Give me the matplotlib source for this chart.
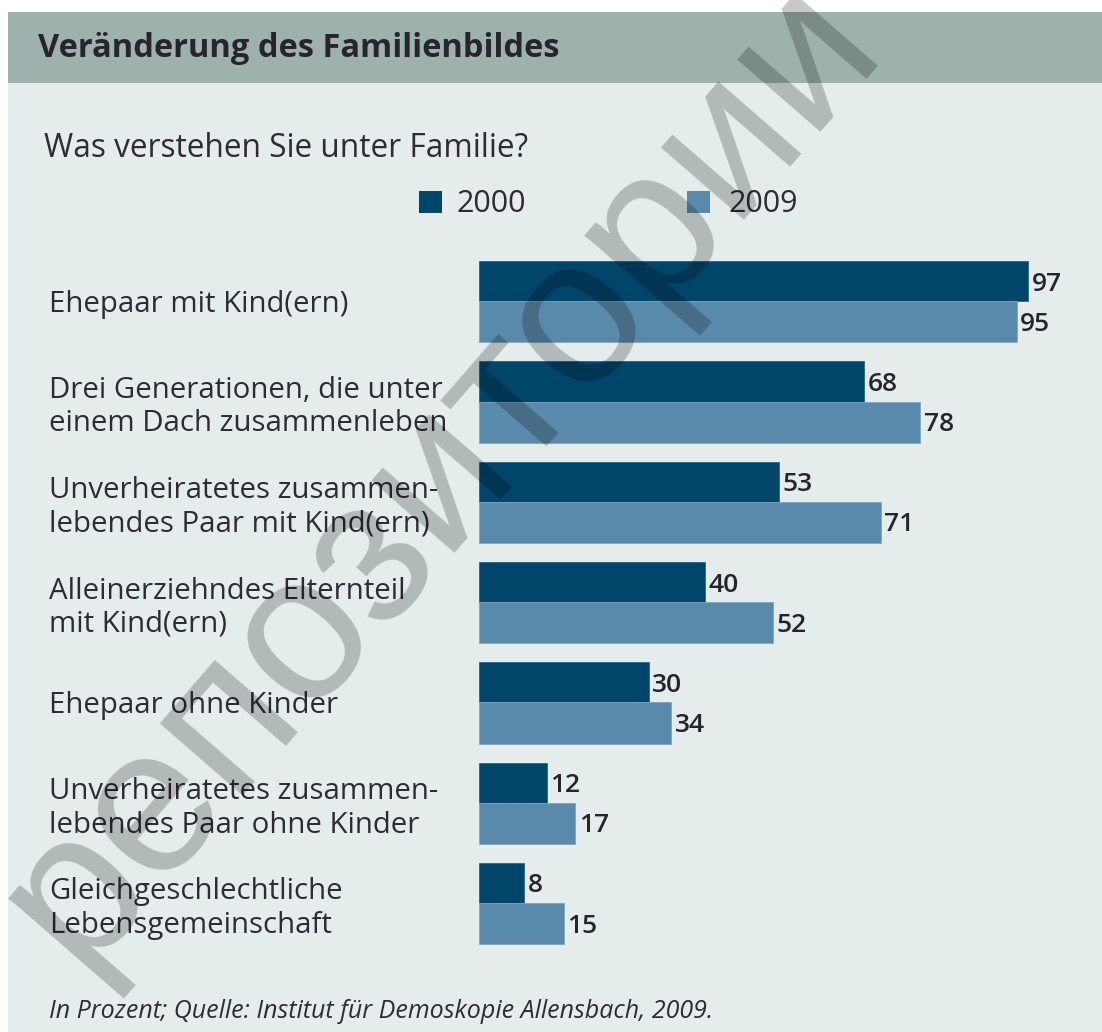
import matplotlib
matplotlib.use("Agg")
import matplotlib.pyplot as plt
from matplotlib.patches import Rectangle
import numpy as np

# ---------------- data ----------------
categories = [
    "Ehepaar mit Kind(ern)",
    "Drei Generationen, die unter\neinem Dach zusammenleben",
    "Unverheiratetes zusammen-\nlebendes Paar mit Kind(ern)",
    "Alleinerziehndes Elternteil\nmit Kind(ern)",
    "Ehepaar ohne Kinder",
    "Unverheiratetes zusammen-\nlebendes Paar ohne Kinder",
    "Gleichgeschlechtliche\nLebensgemeinschaft",
]
values_2000 = [97, 68, 53, 40, 30, 12, 8]
values_2009 = [95, 78, 71, 52, 34, 17, 15]
series_names = ["2000", "2009"]

title = "Veränderung des Familienbildes"
subtitle = "Was verstehen Sie unter Familie?"
footnote = "In Prozent; Quelle: Institut für Demoskopie Allensbach, 2009."
watermark = "репозитории"

# ---------------- style ----------------
W, H, DPI = 1102, 1032, 100
C2000 = "#00466b"
C2009 = "#5a8aab"
HEADER = "#9db2ac"
BODY = "#e4edec"
TXT = "#2e2b33"
FONT = "Open Sans"

def fx(px):
    return px / W

def fy(py):
    return 1 - py / H

fig = plt.figure(figsize=(W / DPI, H / DPI), dpi=DPI, facecolor="white")

# background panels
fig.patches.append(Rectangle((fx(8), fy(1032)), fx(1102) - fx(8), fy(83) - fy(1032),
                             transform=fig.transFigure, facecolor=BODY, edgecolor="none", zorder=-10))
fig.patches.append(Rectangle((fx(8), fy(83)), fx(1102) - fx(8), fy(12) - fy(83),
                             transform=fig.transFigure, facecolor=HEADER, edgecolor="none", zorder=-9))

# texts
fig.text(fx(38), fy(57), title, fontsize=23.5, fontweight="bold", family=FONT,
         color="#27252b", va="baseline", ha="left")
fig.text(fx(44), fy(157), subtitle, fontsize=22.8, family=FONT, color=TXT,
         va="baseline", ha="left")
fig.text(fx(49), fy(1018), footnote, fontsize=18, style="italic", family=FONT,
         color=TXT, va="baseline", ha="left")

# legend (manual)
for (sx, tx), col, name in zip([(419, 457), (687, 728)], [C2000, C2009], series_names):
    fig.patches.append(Rectangle((fx(sx), fy(213)), fx(23), fy(191) - fy(213),
                                 transform=fig.transFigure, facecolor=col,
                                 edgecolor="none", zorder=1))
    fig.text(fx(tx), fy(212), name, fontsize=22, family=FONT, color=TXT,
             va="baseline", ha="left")

# bar axes
pitch = 100.3
g0 = 301.2
top_px = g0 - 0.5 * pitch
bot_px = g0 + 6.5 * pitch
left_px = 479
scale = 5.66
ax = fig.add_axes([fx(left_px), fy(bot_px), fx(W) - fx(left_px), fy(top_px) - fy(bot_px)])
ax.set_facecolor("none")
ax.set_xlim(0, (W - left_px) / scale)
ax.set_ylim(6.5, -0.5)

y = np.arange(len(categories))
h = 0.4
ax.barh(y - h / 2, values_2000, height=h, color=C2000, edgecolor="#2d6488", linewidth=0.6)
ax.barh(y + h / 2 + 0.005, values_2009, height=h + 0.01, color=C2009, edgecolor="#7fa6c0", linewidth=0.6)

for yy, v in zip(y - h / 2, values_2000):
    ax.text(v + 0.6, yy, str(v), fontsize=19, fontweight="semibold", family=FONT,
            color="#26242a", va="center_baseline", ha="left")
for yy, v in zip(y + h / 2, values_2009):
    ax.text(v + 0.6, yy, str(v), fontsize=19, fontweight="semibold", family=FONT,
            color="#26242a", va="center_baseline", ha="left")

ax.set_yticks(y, labels=categories)
ax.tick_params(axis="y", length=0, pad=(left_px - 49) * 72 / DPI)
for t in ax.get_yticklabels():
    t.set_ha("left")
    t.set_fontsize(21.2)
    t.set_family(FONT)
    t.set_color(TXT)
    t.set_linespacing(1.2)
ax.set_xticks([])
for s in ax.spines.values():
    s.set_visible(False)

# watermark overlay
fig.text(fx(440), fy(472), watermark, fontsize=150, family="Liberation Sans",
         color="black", alpha=0.22, rotation=49, rotation_mode="anchor",
         ha="center", va="center", zorder=100)

fig.savefig("out.png", dpi=DPI, facecolor="white")
